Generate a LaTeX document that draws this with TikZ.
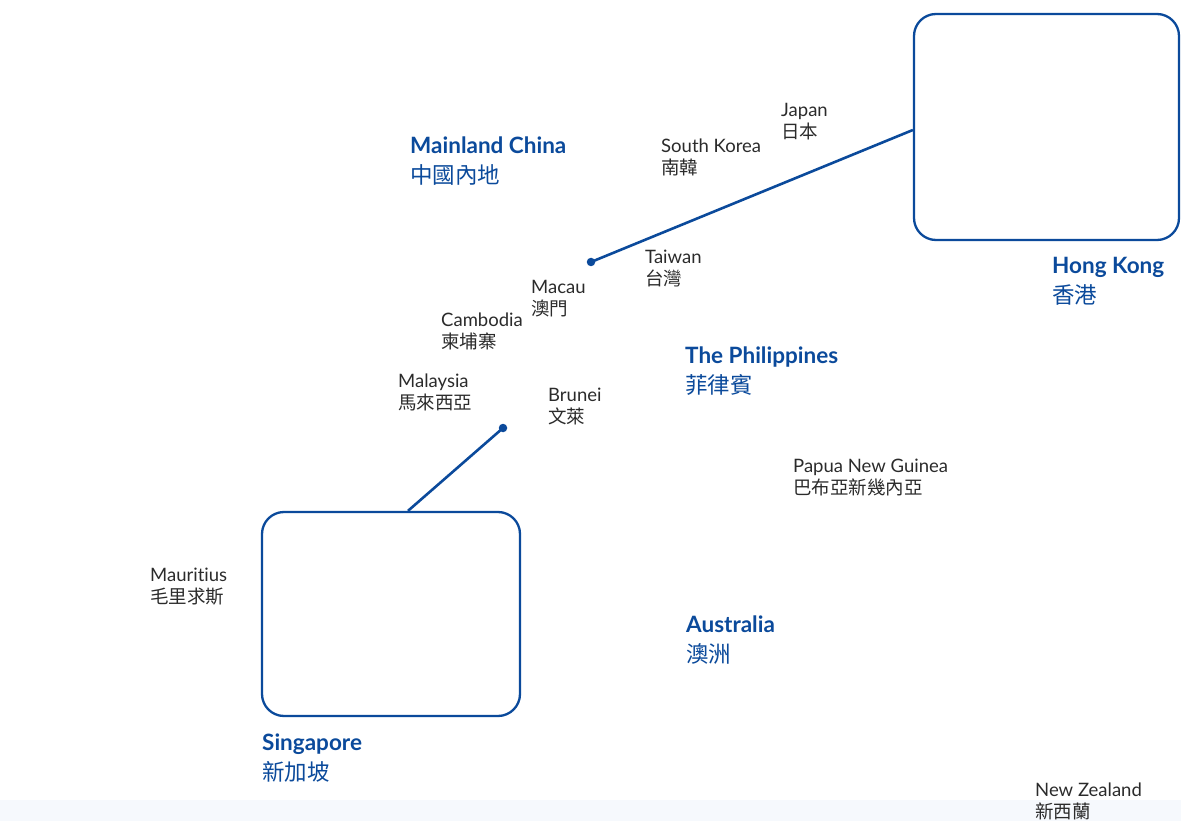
\documentclass[tikz,border=0pt]{standalone}
\usepackage{fontspec}
\setmainfont{Lato}[Ligatures=NoCommon]
\newfontfamily\cjk{Noto Sans CJK TC}
\definecolor{hkblue}{HTML}{0B4A9B}
\definecolor{labelgrey}{HTML}{2B2B2B}
\definecolor{bandblue}{HTML}{F6F9FD}

\begin{document}
\begin{tikzpicture}[x=1pt, y=-1pt,
  region/.style={anchor=base west, align=left, text=hkblue, inner sep=0pt,
    font=\fontsize{22.5}{30}\selectfont\bfseries},
  place/.style={anchor=base west, align=left, text=labelgrey, inner sep=0pt,
    font=\fontsize{18.5}{22}\selectfont},
  hubbox/.style={draw=hkblue, line width=2.3pt, rounded corners=22pt, inner sep=0pt},
  link/.style={draw=hkblue, line width=2.6pt},
  hubdot/.style={fill=hkblue, circle, inner sep=0pt, minimum size=8.5pt}]
\useasboundingbox (0,0) rectangle (1181,821);
\fill[bandblue] (0,800) rectangle (1181,821);
% hubs
\node[hubbox, minimum width=265pt, minimum height=226pt] (hk) at (1046.5,127) {};
\node[hubbox, minimum width=258pt, minimum height=204pt] (sg) at (391,614) {};
\node[hubdot] (hkdot) at (591,262) {};
\node[hubdot] (sgdot) at (503,428) {};
\draw[link] (hkdot.center) -- ([yshift=-3pt]hk.west);
\draw[link] (sgdot.center) -- ([xshift=17pt]sg.north);
% regions (anchored at the baseline of the Chinese line)
\node[region] (china) at (410,184) {Mainland China\\{\cjk\mdseries 中國內地}};
\node[region] (hklabel) at (1052,303) {Hong Kong\\{\cjk\mdseries 香港}};
\node[region] (ph) at (685,393) {The Philippines\\{\cjk\mdseries 菲律賓}};
\node[region] (au) at (686,662) {Australia\\{\cjk\mdseries 澳洲}};
\node[region] (sglabel) at (262,780) {Singapore\\{\cjk\mdseries 新加坡}};
% places
\node[place] (jp) at (781,139) {Japan\\{\cjk 日本}};
\node[place] (kr) at (661,175) {South Korea\\{\cjk 南韓}};
\node[place] (tw) at (645,285) {Taiwan\\{\cjk 台灣}};
\node[place] (mo) at (531,316) {Macau\\{\cjk 澳門}};
\node[place] (kh) at (441,348) {Cambodia\\{\cjk 柬埔寨}};
\node[place] (my) at (398,409) {Malaysia\\{\cjk 馬來西亞}};
\node[place] (bn) at (548,423) {Brunei\\{\cjk 文萊}};
\node[place] (pg) at (793,494) {Papua New Guinea\\{\cjk 巴布亞新幾內亞}};
\node[place] (mu) at (150,603) {Mauritius\\{\cjk 毛里求斯}};
\node[place] (nz) at (1035,818) {New Zealand\\{\cjk 新西蘭}};
\end{tikzpicture}
\end{document}
